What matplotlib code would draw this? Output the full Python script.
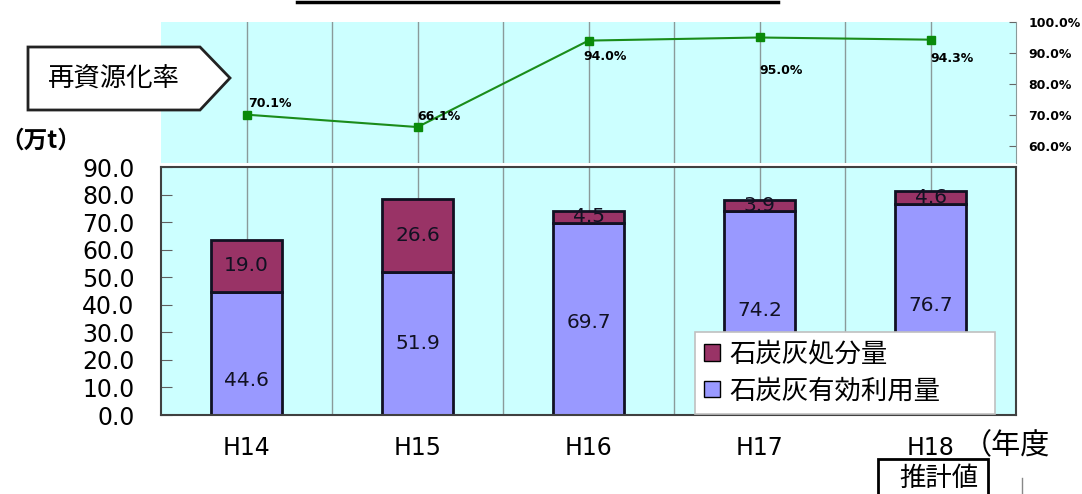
import matplotlib
matplotlib.use("Agg")
import matplotlib.pyplot as plt
from matplotlib.patches import Polygon, Rectangle
from matplotlib.lines import Line2D
import numpy as np

plt.rcParams['font.family'] = ['DejaVu Sans', 'Noto Sans CJK JP']

years = ["H14", "H15", "H16", "H17", "H18"]
used = [44.6, 51.9, 69.7, 74.2, 76.7]        # 石炭灰有効利用量
disposed = [19.0, 26.6, 4.5, 3.9, 4.6]       # 石炭灰処分量
rate = [70.1, 66.1, 94.0, 95.0, 94.3]        # 再資源化率 (%)
rate_ticks = [60, 70, 80, 90, 100]
amount_ticks = [0, 10, 20, 30, 40, 50, 60, 70, 80, 90]

W, H = 1082, 494
fig = plt.figure(figsize=(W / 100, H / 100), dpi=100)
CJK = ["Noto Sans CJK JP", "DejaVu Sans"]


def rect(x0, y0, x1, y1):
    return [x0 / W, 1 - y1 / H, (x1 - x0) / W, (y1 - y0) / H]


def fx(px):
    return px / W


def fy(py):
    return 1 - py / H


bg = "#CCFFFF"
grid_c = "#8A9A9A"
x = np.arange(len(years))

# ---- recycling rate panel ----
ax_top = fig.add_axes(rect(161, 22, 1016, 163))
ax_top.set_facecolor(bg)
for name, s in ax_top.spines.items():
    s.set_visible(name == "right")
ax_top.spines["right"].set_color("#8A9A9A")
ax_top.set_xlim(-0.5, len(years) - 0.5)
ax_top.set_ylim(54.5, 100)
for gx in np.arange(0, len(years) - 0.5, 0.5):
    ax_top.axvline(gx, color=grid_c, lw=1, zorder=1)
ax_top.plot(x, rate, color="#1A8C1A", lw=1.5, marker="s", ms=6,
            markerfacecolor="#0A8A0A", markeredgecolor="#0A8A0A", zorder=3)
ax_top.set_xticks([])
ax_top.yaxis.tick_right()
ax_top.set_yticks(rate_ticks)
ax_top.set_yticklabels([f"{v:.1f}%" for v in rate_ticks], fontsize=9, fontweight="bold")
ax_top.tick_params(axis="y", direction="in", length=5, color="#666666", pad=9)

offsets = [(1, 3, "bottom"), (0, 3, "bottom"), (-4, -7, "top"), (0, -19, "top"), (0, -9, "top")]
for i, v in enumerate(rate):
    dx, dy, va = offsets[i]
    ax_top.annotate(f"{v:.1f}%", (x[i], v), xytext=(dx, dy), textcoords="offset points",
                    ha="left", va=va, fontsize=9, fontweight="bold")

# ---- amount panel ----
ax = fig.add_axes(rect(161, 167, 1016, 415))
ax.set_facecolor(bg)
for s in ax.spines.values():
    s.set_color("#404040")
    s.set_linewidth(1.5)
ax.set_xlim(-0.5, len(years) - 0.5)
ax.set_ylim(0, 90)
for gx in np.arange(0, len(years) - 0.5, 0.5):
    ax.axvline(gx, color=grid_c, lw=1, zorder=1)

c_used = "#9999FF"
c_disp = "#993366"
bw = 0.41
ax.bar(x, used, bw, color=c_used, edgecolor="#111122", lw=2, zorder=2)
ax.bar(x, disposed, bw, bottom=used, color=c_disp, edgecolor="#111122", lw=2, zorder=2)
label_frac = [0.28, 0.5, 0.48, 0.51, 0.52]
for i in range(len(years)):
    ax.text(x[i], used[i] * label_frac[i], f"{used[i]:.1f}",
            ha="center", va="center", fontsize=14.5, color="#111122", zorder=4)
    ax.text(x[i], used[i] + disposed[i] / 2, f"{disposed[i]:.1f}",
            ha="center", va="center", fontsize=14.5, color="#111122", zorder=4)

ax.set_yticks(amount_ticks)
ax.set_yticklabels([f"{v:.1f}" for v in amount_ticks], fontsize=17)
ax.tick_params(axis="y", direction="in", length=8, color="#606060", pad=19)
ax.set_xticks(x)
ax.set_xticklabels(years, fontsize=17)
ax.tick_params(axis="x", length=0, pad=15)

leg_x0 = (695 - 161) / 855
leg_w = (995 - 695) / 855
leg = ax.legend(
    handles=[Rectangle((0, 0), 1, 1, facecolor=c_disp, edgecolor="black"),
             Rectangle((0, 0), 1, 1, facecolor=c_used, edgecolor="black")],
    labels=["石炭灰処分量", "石炭灰有効利用量"],
    loc="lower left", bbox_to_anchor=(leg_x0, 0.006, leg_w, 0.3), mode="expand",
    frameon=True, fancybox=False, framealpha=1, edgecolor="#C0C0C0",
    handlelength=0.6, handleheight=0.6, handletextpad=0.35, labelspacing=0.35,
    borderpad=0.35, borderaxespad=0.0, prop={"family": CJK, "size": 19})
leg.set_zorder(5)
leg.get_frame().set_linewidth(1.2)

# ---- annotations outside the panels ----
fig.patches.append(Polygon([(fx(28), fy(47)), (fx(200), fy(47)), (fx(230), fy(78)),
                            (fx(200), fy(110)), (fx(28), fy(110))],
                           closed=True, facecolor="white", edgecolor="#222222", lw=2,
                           transform=fig.transFigure))
fig.text(fx(114), fy(79), "再資源化率", ha="center", va="center", fontsize=19,
         family=CJK)
fig.text(fx(0), fy(141), "（万t）", ha="left", va="center", fontsize=17,
         family=CJK, fontweight="bold")
fig.text(fx(963), fy(446), "（年度", ha="left", va="center", fontsize=21,
         family=CJK)
fig.patches.append(Rectangle((fx(878), fy(497)), fx(988 - 878), (497 - 459) / H,
                             facecolor="white", edgecolor="black", lw=2,
                             transform=fig.transFigure))
fig.text(fx(939), fy(478), "推計値", ha="center", va="center", fontsize=19,
         family=CJK)
fig.add_artist(Line2D([fx(1022), fx(1022)], [0, fy(478)], color="#888888", lw=1,
                      transform=fig.transFigure))
fig.add_artist(Line2D([fx(297), fx(778)], [fy(2), fy(2)], color="black", lw=2.5,
                      transform=fig.transFigure))

fig.savefig("out.png", dpi=100)
